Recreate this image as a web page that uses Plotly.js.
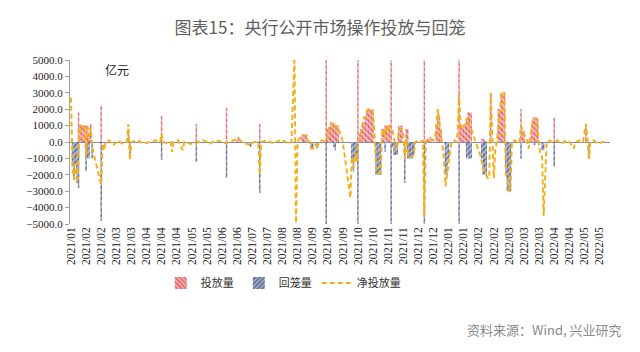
<!DOCTYPE html>
<html>
<head>
<meta charset="utf-8">
<script src="https://cdn.plot.ly/plotly-3.0.1.min.js"></script>
<style>html,body{margin:0;padding:0;background:#fff;}#chart{width:640px;height:352px;}</style>
</head>
<body>
<div id="chart"></div>
<script>
// x-axis labels (one every 10 trading days)
const tickLabels = ["2021/01","2021/02","2021/02","2021/03","2021/03","2021/04","2021/04","2021/04","2021/05","2021/05",
  "2021/06","2021/06","2021/07","2021/07","2021/08","2021/08","2021/09","2021/09","2021/09","2021/10",
  "2021/10","2021/11","2021/11","2021/12","2021/12","2022/01","2022/01","2022/02","2022/02","2022/03",
  "2022/03","2022/03","2022/04","2022/04","2022/05","2022/05"];

// 投放量 (亿元): trading-day index and value
const injDay = [5,6,7,8,9,10,11,12,13,20,38,60,83,103,110,111,125,153,154,155,156,169,
  170,171,172,173,174,175,176,177,190,191,192,193,194,195,196,197,198,199,200,
  206,207,208,209,210,211,212,217,218,219,222,223,234,236,237,238,239,242,243,244,245,
  257,258,259,260,261,262,263,264,265,272,273,274,278,283,284,285,286,287,298,299,300,
  305,306,307,308,309,320,341];
const injVal = [1800,1000,1000,1000,1000,1000,1000,600,1100,2200,800,1600,1100,2100,200,300,1100,450,450,450,450,6000,
  800,900,1200,1200,1200,1100,1000,1000,5500,500,800,1000,1200,1500,2000,2000,2000,2000,2000,
  800,800,1000,1000,1000,1000,10000,1000,1000,1000,800,800,5000,200,200,300,200,1000,1900,1500,800,
  7000,1000,1000,900,1000,1400,1800,1800,1800,200,200,100,3000,2000,2000,3000,3000,3000,2000,700,700,
  1000,1500,1500,1500,1500,1500,1000];

// 回笼量 (亿元)
const wdDay = [1,2,3,4,5,10,11,12,14,20,39,60,83,103,119,125,159,160,163,169,174,175,
  186,187,188,189,190,202,203,204,205,208,212,213,214,215,216,221,223,224,225,226,227,
  234,248,249,250,257,262,263,264,265,272,273,274,275,288,289,290,291,298,307,312,313,320,343];
const wdVal = [1500,2300,1300,2500,2800,1800,1000,1000,1000,4800,1000,1100,1200,2200,300,3100,400,400,400,6000,300,500,
  1000,1800,1000,1000,5500,2000,2000,2000,2000,600,10000,300,800,800,800,2500,1000,1000,1000,1000,800,
  9500,2000,2000,1000,5000,1000,1000,1000,1000,1000,2000,2000,2000,2000,3000,3000,3000,1000,200,500,500,1500,1000];

// 净投放量 (亿元)
const netDay = [0,1,2,3,4,5,6,7,8,9,10,11,12,13,14,15,16,17,18,19,20,21,22,23,25,28,31,34,37,38,39,40,
  44,48,52,56,59,60,61,64,66,67,68,71,74,75,79,83,84,88,92,96,100,103,104,108,111,113,116,119,121,
  124,125,126,130,134,139,142,144,146,148,149,150,152,153,154,155,156,157,158,159,160,161,162,163,164,
  166,169,170,171,172,173,174,175,176,177,179,180,185,186,187,188,189,190,191,192,193,194,195,196,197,
  198,199,200,201,202,203,204,205,206,207,208,209,210,211,212,213,214,215,216,217,218,219,220,221,222,
  223,224,225,226,227,228,230,232,233,234,235,236,238,240,241,242,243,244,245,246,247,248,249,250,251,
  252,254,255,256,257,258,259,260,261,262,263,264,265,268,271,274,275,276,277,278,280,281,282,283,284,
  285,286,287,288,289,290,291,292,294,296,297,298,299,300,301,302,303,304,305,306,307,308,309,310,311,
  312,313,315,317,318,320,322,325,328,330,333,334,337,339,341,342,343,344,346,349,352,354];
const netVal = [2700,-1500,-2300,-1300,-2500,-800,1000,1000,900,1000,-900,900,400,900,-300,-700,-1100,-1500,-1900,-2300,-2600,-100,-500,0,100,-200,100,-100,0,1100,-1100,0,
  100,-100,0,100,0,500,0,-100,0,-600,0,100,-500,0,-100,-100,0,100,-100,100,0,-100,0,100,200,0,-100,-200,0,
  0,-2000,0,100,-100,150,0,-100,0,5200,-5200,0,300,400,400,400,400,100,0,-400,-400,-400,-100,-400,0,
  100,0,600,900,1100,1100,900,800,1000,800,400,0,-3400,-900,-1600,-600,-1200,0,200,600,1000,1500,1500,1900,2000,
  2000,2000,1800,500,-1500,-1900,-1900,-1900,500,800,200,1000,1000,700,700,700,200,-500,-300,600,800,800,500,-1000,200,
  -800,-900,-900,-900,-800,0,100,0,100,-4550,0,100,200,100,200,1000,2000,1200,500,0,-1000,-2700,-2000,-1200,-500,
  0,100,0,500,2900,1000,800,1000,1000,1400,1500,1000,800,0,-800,-1900,-2000,-2200,-2200,3000,-2200,-500,0,1000,1800,
  3000,3000,3000,-2000,-2200,-3000,-3000,0,100,-100,0,1000,700,500,300,200,-400,200,800,1400,1400,1400,1200,-300,-800,
  -900,-4500,0,100,0,0,100,-100,100,0,-400,0,100,0,1100,200,-1000,0,100,-100,0,0];

const traces = [
  {
    type: 'bar', name: '投放量', x: injDay, y: injVal, width: 1,
    marker: {color: '#F0A4A4', line: {width: 0},
      pattern: {shape: '\\', fgcolor: '#DF6464', bgcolor: '#F5B8B8', size: 4, solidity: 0.5, fillmode: 'replace'}}
  },
  {
    type: 'bar', name: '回笼量', x: wdDay, y: wdVal.map(v => -v), width: 1,
    marker: {color: '#8F98B8', line: {width: 0},
      pattern: {shape: '/', fgcolor: '#5E6992', bgcolor: '#AAB1CC', size: 4, solidity: 0.5, fillmode: 'replace'}}
  },
  {
    type: 'scatter', mode: 'lines', name: '净投放量', x: netDay, y: netVal,
    line: {color: '#F3B01C', width: 2, dash: '5px,3px'}
  }
];

const layout = {
  width: 640, height: 352,
  margin: {l: 70, r: 30, t: 60, b: 128},
  paper_bgcolor: '#ffffff', plot_bgcolor: '#ffffff',
  barmode: 'overlay',
  showlegend: true,
  title: {text: '图表15：央行公开市场操作投放与回笼', x: 0.5, xanchor: 'center', y: 0.92, yanchor: 'middle',
    font: {family: 'Noto Sans CJK SC, sans-serif', size: 17, color: '#5f5f5f'}},
  xaxis: {
    range: [-0.66, 356.95], showgrid: false, zeroline: false, showline: false,
    tickmode: 'array', tickvals: tickLabels.map((_, k) => k * 10), ticktext: tickLabels,
    tickangle: -90, ticks: '', tickfont: {family: 'Liberation Serif, serif', size: 11.5, color: '#222'}
  },
  yaxis: {
    range: [-5000, 5000], dtick: 1000, tickformat: '.1f', showgrid: false,
    zeroline: true, zerolinecolor: '#8a8aa0', zerolinewidth: 1,
    showline: true, linecolor: '#a0a0a0', linewidth: 1, ticks: 'outside', ticklen: 4, tickcolor: '#a0a0a0',
    tickfont: {family: 'Liberation Serif, serif', size: 11, color: '#222'}
  },
  legend: {orientation: 'h', x: 0.395, xanchor: 'center', y: -0.36, yanchor: 'middle',
    font: {family: 'Noto Sans CJK SC, sans-serif', size: 11, color: '#333'}, itemwidth: 30, traceorder: 'normal'},
  annotations: [
    {text: '亿元', xref: 'paper', yref: 'paper', x: 0.087, y: 0.94, xanchor: 'center', yanchor: 'middle',
      showarrow: false, font: {family: 'Noto Sans CJK SC, sans-serif', size: 12, color: '#222'}},
    {text: '资料来源：Wind, 兴业研究', xref: 'paper', yref: 'paper', x: 1.026, y: -0.646, xanchor: 'right', yanchor: 'middle',
      showarrow: false, font: {family: 'Noto Sans CJK SC, sans-serif', size: 13, color: '#8a8a8a'}}
  ]
};

Plotly.newPlot('chart', traces, layout, {displayModeBar: false, staticPlot: true});
</script>
</body>
</html>
